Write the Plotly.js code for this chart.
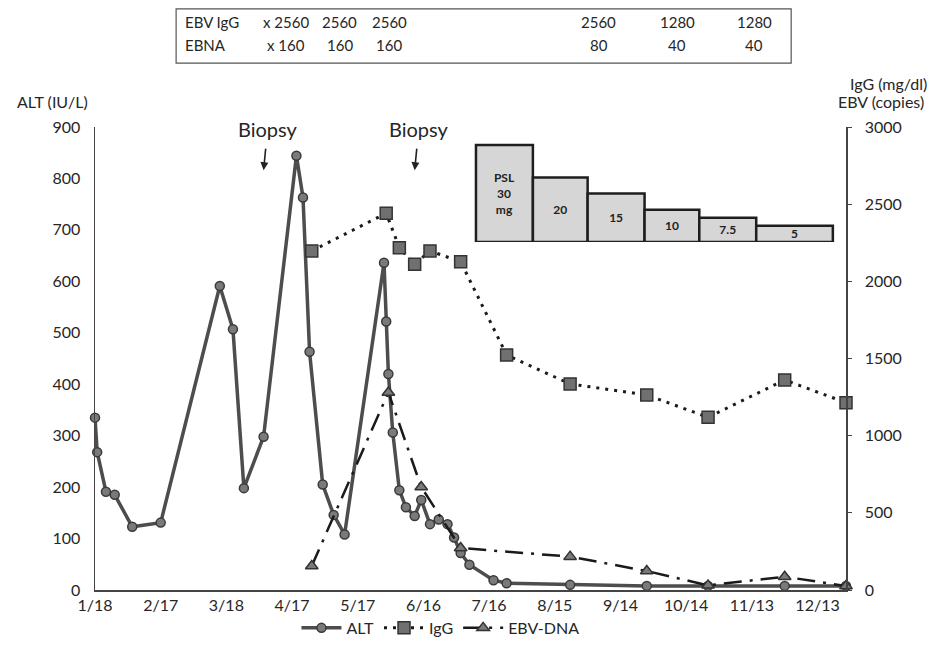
<!DOCTYPE html>
<html><head><meta charset="utf-8">
<script src="https://cdn.plot.ly/plotly-3.0.1.min.js"></script>
<style>html,body{margin:0;padding:0;background:#fff}</style>
</head><body><div id="chart" style="width:931px;height:659px"></div>
<script>
// ---- data ----
const altDates = ['2012-01-18','2012-01-19','2012-01-23','2012-01-27','2012-02-04','2012-02-17','2012-03-15','2012-03-21','2012-03-26','2012-04-04','2012-04-19','2012-04-22','2012-04-25','2012-05-01','2012-05-06','2012-05-11','2012-05-29','2012-05-30','2012-05-31','2012-06-02','2012-06-05','2012-06-08','2012-06-12','2012-06-15','2012-06-19','2012-06-23','2012-06-27','2012-06-30','2012-07-03','2012-07-07','2012-07-18','2012-07-24','2012-08-22','2012-09-26','2012-10-24','2012-11-28','2012-12-26'];
const altValues = [335,268,191,185,123,131,591,507,198,298,844,763,463,205,146,108,636,522,420,306,194,161,144,175,128,137,128,102,72,49,19,13,10,8,8,8,8];

const iggDates = ['2012-04-26','2012-05-30','2012-06-05','2012-06-12','2012-06-19','2012-07-03','2012-07-24','2012-08-22','2012-09-26','2012-10-24','2012-11-28','2012-12-26'];
const iggValues = [2197,2441,2218,2110,2197,2127,1523,1335,1264,1119,1361,1214];

const ebvDates = ['2012-04-26','2012-05-31','2012-06-15','2012-07-03','2012-08-22','2012-09-26','2012-10-24','2012-11-28','2012-12-26'];
const ebvValues = [156,1280,667,272,216,123,30,86,26];

const pslPeriodEdges = ['2012-07-10','2012-08-05','2012-08-30','2012-09-25','2012-10-20','2012-11-15','2012-12-20'];
const pslDoses = [30,20,15,10,7.5,5];
const pslLabels = ['PSL<br>30<br>mg','20','15','10','7.5','5'];

const xTickDates = ['2012-01-18','2012-02-17','2012-03-18','2012-04-17','2012-05-17','2012-06-16','2012-07-16','2012-08-15','2012-09-14','2012-10-14','2012-11-13','2012-12-13'];
const xTickLabels = ['1/18','2/17','3/18','4/17','5/17','6/16','7/16','8/15','9/14','10/14','11/13','12/13'];

const biopsyDates = ['2012-04-04','2012-06-12'];

const tableRowLabels = ['EBV IgG','EBNA'];
const ebvIgGTiters = ['x 2560','2560','2560','2560','1280','1280'];
const ebnaTiters = ['x 160','160','160','80','40','40'];

// ---- build ----
const FONT = 'Lato, "Open Sans", sans-serif';
const TXT = '#262626';

const pslStarts = pslPeriodEdges.slice(0, -1);
const pslWidths = pslStarts.map((d, i) => new Date(pslPeriodEdges[i + 1]) - new Date(d));

const traces = [
  {
    x: pslStarts, y: pslDoses, width: pslWidths, offset: 0, type: 'bar',
    xaxis: 'x', yaxis: 'y3', showlegend: false, hoverinfo: 'skip',
    text: pslLabels, textposition: 'inside', insidetextanchor: 'middle', constraintext: 'none',
    textangle: 0,
    textfont: {family: FONT, size: 12, color: '#222', weight: 'bold'},
    marker: {color: '#d6d6d6', line: {color: '#1e1e1e', width: 2.5}}
  },
  {
    x: altDates, y: altValues, name: 'ALT', type: 'scatter', mode: 'lines+markers',
    xaxis: 'x', yaxis: 'y', cliponaxis: false,
    line: {color: '#4d4d4d', width: 3.5},
    marker: {symbol: 'circle', size: 9, color: '#7a7a7a', line: {color: '#3a3a3a', width: 1.5}}
  },
  {
    x: iggDates, y: iggValues, name: 'IgG', type: 'scatter', mode: 'lines+markers',
    xaxis: 'x', yaxis: 'y2', cliponaxis: false,
    line: {color: '#1a1a1a', width: 3, dash: '3px,6px'},
    marker: {symbol: 'square', size: 12, color: '#707070', line: {color: '#333', width: 1.5}}
  },
  {
    x: ebvDates, y: ebvValues, name: 'EBV-DNA', type: 'scatter', mode: 'lines+markers',
    xaxis: 'x', yaxis: 'y2', cliponaxis: false,
    line: {color: '#1a1a1a', width: 2.5, dash: '18px,8px,3px,8px'},
    marker: {symbol: 'triangle-up', size: 11, color: '#7a7a7a', line: {color: '#333', width: 1.5}}
  }
];

const annotations = [
  {xref: 'paper', yref: 'paper', x: -0.057, y: 1.056, xanchor: 'center', yanchor: 'middle',
   text: 'ALT (IU/L)', showarrow: false, font: {family: FONT, size: 16, color: TXT}},
  {xref: 'paper', yref: 'paper', x: 1.057, y: 1.095, xanchor: 'center', yanchor: 'middle',
   text: 'IgG (mg/dl)', showarrow: false, font: {family: FONT, size: 16, color: TXT}},
  {xref: 'paper', yref: 'paper', x: 1.047, y: 1.056, xanchor: 'center', yanchor: 'middle',
   text: 'EBV (copies)', showarrow: false, font: {family: FONT, size: 16, color: TXT}}
];
biopsyDates.forEach(d => annotations.push({
  x: d, y: 816, xref: 'x', yref: 'y', text: 'Biopsy', showarrow: true,
  ax: 4, ay: -41, arrowhead: 2, arrowsize: 1, arrowwidth: 1.6, arrowcolor: '#222',
  startstandoff: 6, font: {family: FONT, size: 20, color: TXT}
}));

// table of titers above the plot
const colX = [0.254, 0.326, 0.392, 0.671, 0.775, 0.878];
const rowY = [1.227, 1.177];
[ebvIgGTiters, ebnaTiters].forEach((row, r) => {
  annotations.push({xref: 'paper', yref: 'paper', x: 0.117, y: rowY[r], xanchor: 'left', yanchor: 'middle',
    text: tableRowLabels[r], showarrow: false, font: {family: FONT, size: 15, color: TXT}});
  row.forEach((t, c) => annotations.push({xref: 'paper', yref: 'paper', x: colX[c], y: rowY[r],
    xanchor: 'center', yanchor: 'middle',
    text: t, showarrow: false, font: {family: FONT, size: 15, color: TXT}}));
});

const layout = {
  width: 931, height: 659,
  margin: {l: 95, r: 85, t: 127, b: 69},
  paper_bgcolor: '#fff', plot_bgcolor: 'rgba(0,0,0,0)',
  font: {family: FONT, size: 16, color: TXT},
  showlegend: true,
  legend: {orientation: 'h', x: 0.46, xanchor: 'center', y: -0.082, yanchor: 'middle',
           font: {family: FONT, size: 16, color: TXT}, itemwidth: 40, bgcolor: 'rgba(0,0,0,0)'},
  xaxis: {type: 'date', range: ['2012-01-18', '2012-12-26'], tickvals: xTickDates, ticktext: xTickLabels,
          showline: true, linecolor: '#444', linewidth: 1.5, showgrid: false, zeroline: false,
          ticks: '', tickfont: {family: FONT, size: 16, color: TXT}},
  yaxis: {range: [0, 900], dtick: 100, showline: true, linecolor: '#444', linewidth: 1.5,
          showgrid: false, zeroline: false, ticks: '', ticklabelstandoff: 10,
          tickfont: {family: FONT, size: 16, color: TXT}},
  yaxis2: {range: [0, 3000], dtick: 500, overlaying: 'y', side: 'right', showline: true,
           linecolor: '#444', linewidth: 1.5, showgrid: false, zeroline: false,
           ticks: 'outside', ticklen: 4, tickcolor: '#444', ticklabelstandoff: 10,
           tickfont: {family: FONT, size: 16, color: TXT}},
  yaxis3: {domain: [0.7516, 1], range: [0, 35.6], anchor: 'x', visible: false,
           showgrid: false, zeroline: false},
  bargap: 0,
  shapes: [
    {type: 'rect', xref: 'paper', yref: 'paper', x0: 0.108, x1: 0.927, y0: 1.138, y1: 1.255,
     line: {color: '#555', width: 1.2}, fillcolor: 'rgba(0,0,0,0)'}
  ],
  annotations: annotations
};

Plotly.newPlot('chart', traces, layout, {displayModeBar: false, staticPlot: true});
</script>
</body></html>
